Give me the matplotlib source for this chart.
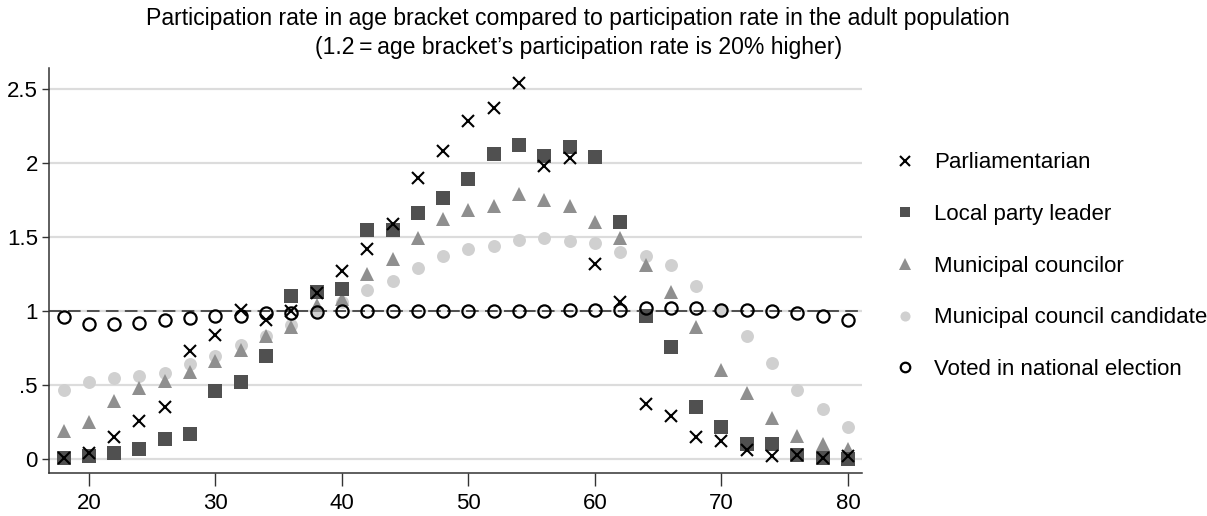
import numpy as np
import matplotlib
matplotlib.use("Agg")
import matplotlib.pyplot as plt

plt.rcParams['font.family'] = ['Liberation Sans', 'DejaVu Sans']

ages = [18, 20, 22, 24, 26, 28, 30, 32, 34, 36, 38, 40, 42, 44, 46, 48, 50, 52, 54, 56, 58,
        60, 62, 64, 66, 68, 70, 72, 74, 76, 78, 80]

parliamentarian = [0.01, 0.045, 0.15, 0.26, 0.35, 0.73, 0.84, 1.01, 0.94, 1.0, 1.12, 1.27,
                   1.42, 1.585, 1.90, 2.08, 2.28, 2.37, 2.54, 1.98, 2.03,
                   1.32, 1.06, 0.37, 0.29, 0.15, 0.12, 0.06, 0.02, 0.03, 0.01, 0.02]
party_leader = [0.01, 0.02, 0.04, 0.07, 0.14, 0.17, 0.46, 0.52, 0.70, 1.10, 1.13, 1.15,
                1.545, 1.545, 1.66, 1.76, 1.89, 2.06, 2.12, 2.05, 2.11,
                2.04, 1.60, 0.97, 0.76, 0.35, 0.22, 0.10, 0.10, 0.03, 0.01, 0.0]
councilor = [0.19, 0.25, 0.39, 0.48, 0.53, 0.59, 0.66, 0.74, 0.83, 0.89, 1.04, 1.08,
             1.25, 1.35, 1.49, 1.62, 1.68, 1.71, 1.79, 1.75, 1.71,
             1.60, 1.49, 1.31, 1.13, 0.89, 0.60, 0.45, 0.28, 0.16, 0.10, 0.07]
candidate = [0.465, 0.52, 0.55, 0.56, 0.58, 0.64, 0.70, 0.77, 0.835, 0.905, 0.995, 1.06,
             1.14, 1.20, 1.29, 1.37, 1.42, 1.44, 1.48, 1.49, 1.47,
             1.46, 1.40, 1.37, 1.31, 1.17, 1.0, 0.83, 0.65, 0.47, 0.34, 0.22]
voted = [0.96, 0.91, 0.915, 0.92, 0.94, 0.955, 0.965, 0.965, 0.985, 0.99, 0.995, 1.0,
         1.0, 1.0, 1.0, 1.0, 1.0, 1.0, 1.0, 1.0, 1.01,
         1.01, 1.01, 1.02, 1.02, 1.02, 1.01, 1.01, 1.0, 0.99, 0.965, 0.94]

y_ticks = [0, 0.5, 1, 1.5, 2, 2.5]
y_labels = ['0', '.5', '1', '1.5', '2', '2.5']
x_ticks = [20, 30, 40, 50, 60, 70, 80]

fig = plt.figure(figsize=(12.07, 5.16), dpi=100)
ax = fig.add_axes([0.0406, 0.083, 0.6735, 0.785])

# linie siatki i linia odniesienia y=1
for yt in y_ticks:
    ax.axhline(yt, color='#dcdcdc', linewidth=1.6, zorder=0)
ax.axhline(1, color='#444444', linewidth=1.3, linestyle=(0, (7, 3.5)), zorder=1)

ax.plot(ages, candidate, linestyle='none', marker='o', markersize=9.3,
        color='#d0d0d0', markeredgewidth=0, label='Municipal council candidate', zorder=2)
ax.plot(ages, councilor, linestyle='none', marker='^', markersize=10.5,
        color='#8f8f8f', markeredgewidth=0, label='Municipal councilor', zorder=3)
ax.plot(ages, party_leader, linestyle='none', marker='s', markersize=9.5,
        color='#505050', markeredgewidth=0, label='Local party leader', zorder=4)
ax.plot(ages, voted, linestyle='none', marker='o', markersize=8.8,
        markerfacecolor='none', markeredgecolor='black', markeredgewidth=1.6,
        label='Voted in national election', zorder=5)
ax.plot(ages, parliamentarian, linestyle='none', marker='x', markersize=9.3,
        color='black', markeredgewidth=1.5, label='Parliamentarian', zorder=6)

ax.set_xlim(16.85, 81.1)
ax.set_ylim(-0.094, 2.64)
ax.set_xticks(x_ticks)
ax.set_yticks(y_ticks)
ax.set_yticklabels(y_labels)
ax.tick_params(axis='both', labelsize=16, direction='out', width=1, color='#333333')
ax.tick_params(axis='x', length=9, pad=5)
ax.tick_params(axis='y', length=5, pad=3)
for s in ['top', 'right']:
    ax.spines[s].set_visible(False)
for s in ['left', 'bottom']:
    ax.spines[s].set_color('#333333')
    ax.spines[s].set_linewidth(1.1)

handles, labels = ax.get_legend_handles_labels()
order = ['Parliamentarian', 'Local party leader', 'Municipal councilor',
         'Municipal council candidate', 'Voted in national election']
hmap = dict(zip(labels, handles))
leg = fig.legend([hmap[k] for k in order], order, loc='upper left',
                 bbox_to_anchor=(0.736, 0.722), frameon=False, fontsize=16,
                 markerscale=0.78, handlelength=0.7, handletextpad=0.95,
                 labelspacing=1.38, borderaxespad=0)

fig.text(0.479, 0.965, 'Participation rate in age bracket compared to participation rate in the adult population',
         ha='center', va='center', fontsize=16.6)
fig.text(0.479, 0.907, '(1.2\u2009=\u2009age bracket\u2019s participation rate is 20% higher)',
         ha='center', va='center', fontsize=16.6)

fig.savefig('out.png', dpi=100)
